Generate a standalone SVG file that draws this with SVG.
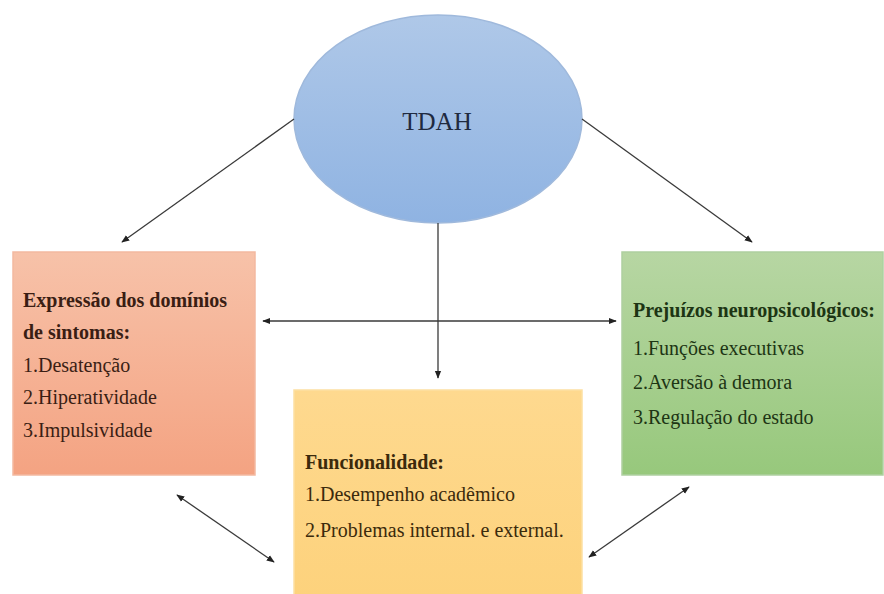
<svg xmlns="http://www.w3.org/2000/svg" width="884" height="594" viewBox="0 0 884 594">
  <defs>
    <linearGradient id="gBlue" x1="0" y1="0" x2="0" y2="1">
      <stop offset="0" stop-color="#afc8e8"/>
      <stop offset="1" stop-color="#8fb3e2"/>
    </linearGradient>
    <linearGradient id="gRed" x1="0" y1="0" x2="0" y2="1">
      <stop offset="0" stop-color="#f7c2a9"/>
      <stop offset="1" stop-color="#f4a382"/>
    </linearGradient>
    <linearGradient id="gGreen" x1="0" y1="0" x2="0" y2="1">
      <stop offset="0" stop-color="#b7d6a3"/>
      <stop offset="1" stop-color="#97c87c"/>
    </linearGradient>
    <linearGradient id="gYellow" x1="0" y1="0" x2="0" y2="1">
      <stop offset="0" stop-color="#fed98f"/>
      <stop offset="1" stop-color="#fdd27c"/>
    </linearGradient>
    <marker id="ah" viewBox="0 0 10 10" refX="9" refY="5" markerWidth="8" markerHeight="8" markerUnits="userSpaceOnUse" orient="auto-start-reverse">
      <path d="M0,1 L10,5 L0,9 Z" fill="#222"/>
    </marker>
  </defs>
  <style>
    .t { font-family: "Liberation Serif", "Times New Roman", serif; font-size: 20px; }
    .b { font-weight: bold; }
    .conn line { stroke: #3a3a3a; stroke-width: 1.3; fill: none; }
    .one { marker-end: url(#ah); }
    .two { marker-start: url(#ah); marker-end: url(#ah); }
  </style>
  <rect width="884" height="594" fill="#ffffff"/>

  <g id="tdah">
    <ellipse cx="438" cy="119" rx="144" ry="104" fill="url(#gBlue)" stroke="#9fb9dc" stroke-width="1.5"/>
    <text x="437" y="130" text-anchor="middle" font-family="Liberation Serif, serif" font-size="25" fill="#1f2a40">TDAH</text>
  </g>

  <g id="sintomas">
    <rect x="13" y="252" width="242" height="223" fill="url(#gRed)" stroke="#f3b9a0" stroke-width="1.5"/>
    <g class="t" fill="#3a1e14">
      <text x="23" y="307" class="b">Expressão dos domínios</text>
      <text x="23" y="339" class="b">de sintomas:</text>
      <text x="23" y="372">1.Desatenção</text>
      <text x="23" y="404">2.Hiperatividade</text>
      <text x="23" y="437">3.Impulsividade</text>
    </g>
  </g>

  <g id="prejuizos">
    <rect x="622" y="252" width="261" height="223" fill="url(#gGreen)" stroke="#aed0a0" stroke-width="1.5"/>
    <g class="t" fill="#1d3514">
      <text x="633" y="317" class="b">Prejuízos neuropsicológicos:</text>
      <text x="633" y="355">1.Funções executivas</text>
      <text x="633" y="389">2.Aversão à demora</text>
      <text x="633" y="424">3.Regulação do estado</text>
    </g>
  </g>

  <g id="funcionalidade">
    <rect x="294" y="390" width="288" height="210" fill="url(#gYellow)" stroke="#fde0a2" stroke-width="1.5"/>
    <g class="t" fill="#3b2a0c">
      <text x="305" y="469" class="b">Funcionalidade:</text>
      <text x="305" y="501">1.Desempenho acadêmico</text>
      <text x="305" y="537">2.Problemas internal. e external.</text>
    </g>
  </g>

  <g id="connectors" class="conn">
    <line class="one" x1="294" y1="119" x2="122" y2="242"/>
    <line class="one" x1="582" y1="119" x2="752" y2="242"/>
    <line class="one" x1="438" y1="223" x2="438" y2="378"/>
    <line class="two" x1="263" y1="321" x2="616" y2="321"/>
    <line class="two" x1="177" y1="495" x2="274" y2="562"/>
    <line class="two" x1="689" y1="487" x2="589" y2="557"/>
  </g>
</svg>
